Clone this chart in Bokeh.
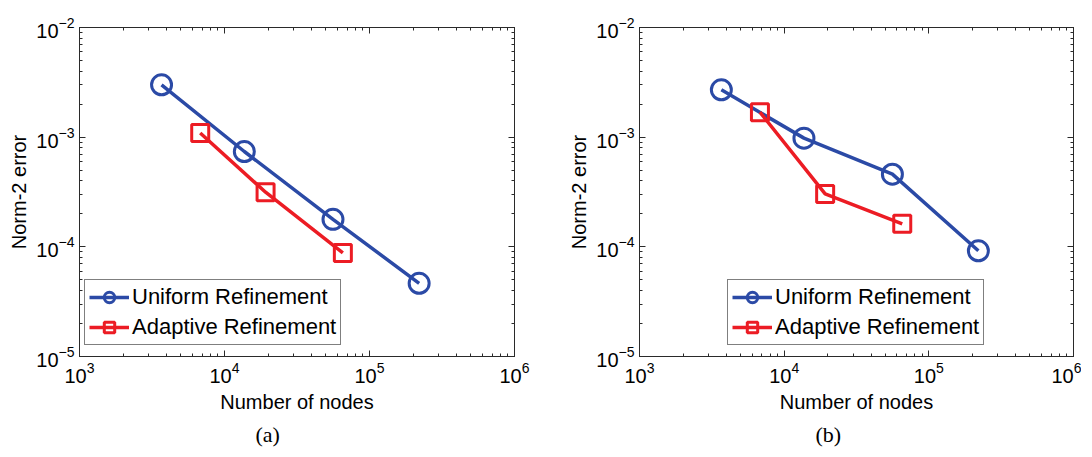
from bokeh.plotting import figure
from bokeh.models import LogAxis, LogTicker, Legend, LegendItem, Title, CustomJSTickFormatter
from bokeh.layouts import row
from bokeh.embed import file_html
from bokeh.resources import INLINE

# ---- data ----
nodes_uniform = [3680, 13700, 56000, 220000]
nodes_adaptive = [6800, 19200, 65500]

err_uniform_a = [3.0e-3, 7.4e-4, 1.78e-4, 4.65e-5]
err_adaptive_a = [1.09e-3, 3.15e-4, 8.8e-5]

err_uniform_b = [2.7e-3, 9.8e-4, 4.6e-4, 9.2e-5]
err_adaptive_b = [1.69e-3, 3.04e-4, 1.62e-4]

series_labels = ["Uniform Refinement", "Adaptive Refinement"]
captions = ["(a)", "(b)"]
x_label = "Number of nodes"
y_label = "Norm-2 error"

BLUE = "#2b4aa6"
RED = "#ec1c24"
AXC = "#2a2a2a"
FONT = "Liberation Sans"


def style_axis(ax, labels=True):
    ax.ticker = LogTicker(num_minor_ticks=10)
    ax.axis_line_color = AXC
    ax.major_tick_line_color = AXC
    ax.minor_tick_line_color = AXC
    ax.major_tick_in = 6
    ax.major_tick_out = 0
    ax.minor_tick_in = 3
    ax.minor_tick_out = 0
    ax.major_label_text_font = FONT
    ax.major_label_text_color = "black"
    ax.major_label_text_font_size = "20px"
    if labels:
        ax.major_label_standoff = 5
    else:
        ax.formatter = CustomJSTickFormatter(code="return ''")
        ax.major_label_standoff = 0


def panel(err_u, err_a, caption, legend_loc, bl, br, fw):
    p = figure(x_axis_type="log", y_axis_type="log",
               x_range=(1e3, 1e6), y_range=(1e-5, 1e-2),
               frame_width=fw, frame_height=329,
               min_border_left=bl, min_border_right=br,
               min_border_top=27, min_border_bottom=84,
               output_backend="svg", toolbar_location=None)
    p.grid.visible = False
    p.outline_line_color = AXC
    p.outline_line_alpha = 1
    p.background_fill_color = "white"
    p.border_fill_color = "white"

    style_axis(p.xaxis[0])
    style_axis(p.yaxis[0])
    p.xaxis.axis_label = x_label
    p.yaxis.axis_label = y_label
    for ax in (p.xaxis[0], p.yaxis[0]):
        ax.axis_label_text_font = FONT
        ax.axis_label_text_font_size = "20px"
        ax.axis_label_text_font_style = "normal"
        ax.axis_label_text_color = "black"
    p.xaxis.axis_label_standoff = 5
    p.yaxis.axis_label_standoff = 3

    top = LogAxis()
    right = LogAxis()
    style_axis(top, labels=False)
    style_axis(right, labels=False)
    p.add_layout(top, "above")
    p.add_layout(right, "right")

    lu = p.line(nodes_uniform, err_u, line_color=BLUE, line_width=3.5)
    su = p.scatter(nodes_uniform, err_u, marker="circle", size=20,
                   line_color=BLUE, line_width=3, fill_color=None)
    la = p.line(nodes_adaptive, err_a, line_color=RED, line_width=3.5)
    sa = p.scatter(nodes_adaptive, err_a, marker="square", size=17,
                   line_color=RED, line_width=3, fill_color=None)

    legend = Legend(items=[LegendItem(label=series_labels[0], renderers=[lu, su]),
                           LegendItem(label=series_labels[1], renderers=[la, sa])],
                    location=legend_loc)
    legend.label_text_font = FONT
    legend.label_text_font_size = "22px"
    legend.label_text_color = "black"
    legend.border_line_color = "black"
    legend.border_line_width = 1
    legend.background_fill_alpha = 1
    legend.padding = 4
    legend.spacing = 4
    legend.margin = 0
    legend.glyph_width = 40
    legend.glyph_height = 26
    legend.label_height = 26
    legend.label_standoff = 3
    p.add_layout(legend)

    cap = Title(text=caption, align="left", offset=176,
                text_font="Liberation Serif", text_font_size="22px",
                text_font_style="normal", text_color="black", standoff=8)
    p.add_layout(cap, "below")
    return p


p1 = panel(err_uniform_a, err_adaptive_a, captions[0], (5, 11), 79, 40, 435)
p2 = panel(err_uniform_b, err_adaptive_b, captions[1], (88, 11), 85, 8, 434)

layout = row(p1, p2)
open("out.html", "w").write(file_html(layout, INLINE))
